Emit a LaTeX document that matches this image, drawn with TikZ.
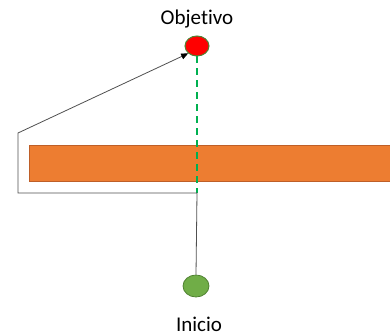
\documentclass[tikz,border=0pt]{standalone}
\usepackage{fontspec}
\setmainfont[Ligatures={NoCommon}]{Carlito}
\usetikzlibrary{arrows.meta,shapes.geometric}
\definecolor{barfill}{RGB}{237,125,49}
\definecolor{barline}{RGB}{190,95,40}
\definecolor{startfill}{RGB}{112,173,71}
\definecolor{startline}{RGB}{80,130,50}
\definecolor{dashgreen}{RGB}{0,176,80}
\definecolor{routegray}{RGB}{80,80,80}
\begin{document}
\begin{tikzpicture}[x=1pt,y=-1pt,
  label text/.style={font=\fontsize{21}{25}\selectfont, text=black, inner sep=0pt},
  goal/.style={ellipse, draw=startline, line width=1pt, fill=red, minimum width=24pt, minimum height=20pt, inner sep=0pt},
  start/.style={ellipse, draw=startline, line width=0.8pt, fill=startfill, minimum width=26pt, minimum height=22pt, inner sep=0pt},
  route/.style={draw=routegray, line width=0.8pt},
]
\useasboundingbox (0,0) rectangle (390,336);
\fill[white] (0,0) rectangle (390,336);
% obstacle bar running off the right edge
\filldraw[fill=barfill, draw=barline, line width=0.8pt]
  (29,145) rectangle (395,181);
% goal and start points
\node[goal] (goal) at (197,46) {};
\node[start] (start) at (196,286) {};
\node[label text] (goaltxt) at (197,19) {Objetivo};
\node[label text] (starttxt) at (199,324) {Inicio};
% corners of the detour path
\coordinate (c1) at (197,193);
\coordinate (c2) at (18,193);
\coordinate (c3) at (18,133);
% straight-line distance
\draw[dashgreen, line width=2.8pt, dash pattern=on 7pt off 5pt]
  (goal.south) -- (c1);
% detour path around the bar
\draw[route, -{Triangle[length=7pt,width=6pt,fill=black,color=black]}] (start.north) -- (c1) -- (c2) -- (c3) -- (goal.south west);
\end{tikzpicture}
\end{document}
